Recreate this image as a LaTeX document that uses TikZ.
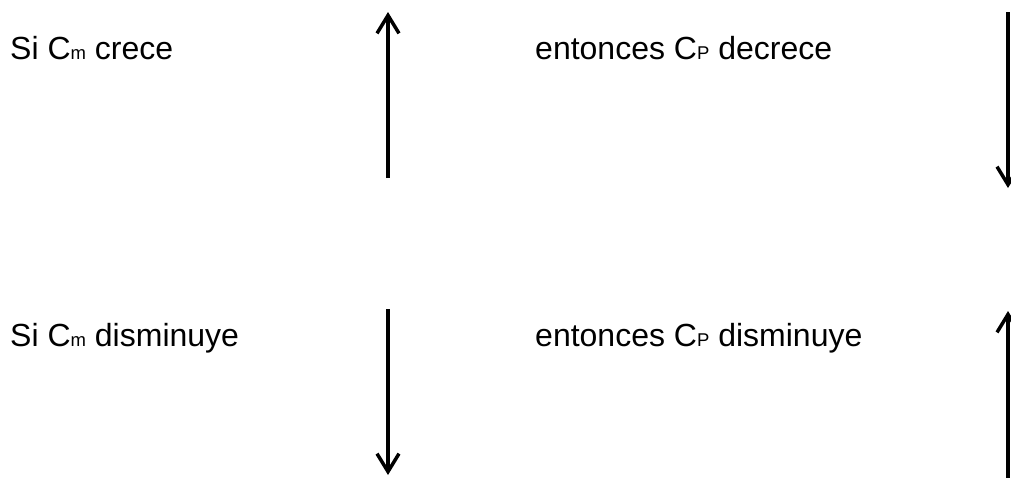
\documentclass[tikz,border=0pt]{standalone}
\usepackage{fontspec}
\setmainfont{Liberation Sans}
\usetikzlibrary{arrows.meta}
\newcommand\subtxt[1]{{\fontsize{18.5}{20}\selectfont #1}}
\begin{document}
\begin{tikzpicture}[x=1pt,y=-1pt,
  lbl/.style={anchor=base west, inner sep=0pt, font=\fontsize{32}{38}\selectfont},
  arr/.style={line width=3.5pt, -{Straight Barb[length=18pt,width=22pt]}}]
\useasboundingbox (0,0) rectangle (1011,477);
\node[lbl] (t1) at (10,59) {Si C\subtxt{m} crece};
\node[lbl] (t2) at (535,59) {entonces C\subtxt{P} decrece};
\node[lbl] (t3) at (10,346) {Si C\subtxt{m} disminuye};
\node[lbl] (t4) at (535,346) {entonces C\subtxt{P} disminuye};
\coordinate (a1s) at (388,178);
\coordinate (a1e) at (388,12);
\coordinate (a2s) at (1008,12);
\coordinate (a2e) at (1008,188);
\coordinate (a3s) at (388,309);
\coordinate (a3e) at (388,475);
\coordinate (a4s) at (1008,485);
\coordinate (a4e) at (1008,311);
\draw[arr] (a1s) -- (a1e);
\draw[arr] (a2s) -- (a2e);
\draw[arr] (a3s) -- (a3e);
\draw[arr] (a4s) -- (a4e);
\end{tikzpicture}
\end{document}
